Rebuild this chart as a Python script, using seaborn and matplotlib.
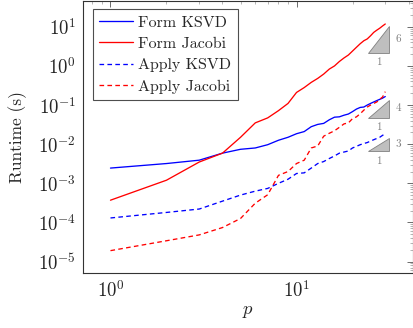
import numpy as np
import pandas as pd
import matplotlib
matplotlib.use("Agg")
import matplotlib.pyplot as plt
import matplotlib.ticker as mticker
from matplotlib.patches import Polygon
import seaborn as sns

# ---- data ----
p = list(range(1, 31))
form_ksvd = [2.45e-3, 3.2e-3, 3.9e-3, 5.9e-3, 7.4e-3, 8.0e-3, 9.7e-3, 0.0126, 0.015, 0.0185,
             0.021, 0.028, 0.032, 0.034, 0.042, 0.049, 0.050, 0.055, 0.059, 0.068,
             0.079, 0.087, 0.089, 0.10, 0.11, 0.12, 0.13, 0.14, 0.15, 0.165]
form_jacobi = [3.7e-4, 1.2e-3, 3.5e-3, 5.9e-3, 0.015, 0.035, 0.047, 0.072, 0.11, 0.21,
               0.28, 0.38, 0.48, 0.62, 0.83, 1.0, 1.3, 1.6, 1.9, 2.4,
               3.0, 3.7, 4.4, 4.9, 5.9, 7.2, 8.2, 9.2, 10.5, 11.8]
apply_ksvd = [1.3e-4, 1.8e-4, 2.2e-4, 3.5e-4, 5.0e-4, 6.3e-4, 7.4e-4, 1.0e-3, 1.27e-3, 1.78e-3,
              1.85e-3, 2.45e-3, 3.2e-3, 3.6e-3, 4.3e-3, 5.0e-3, 5.9e-3, 6.3e-3, 6.7e-3, 8.0e-3,
              8.8e-3, 9.7e-3, 0.0104, 0.011, 0.012, 0.013, 0.014, 0.015, 0.0168, 0.0185]
apply_jacobi = [1.9e-5, 3.4e-5, 4.8e-5, 7.4e-5, 1.26e-4, 3.1e-4, 5.1e-4, 1.6e-3, 2.0e-3, 3.2e-3,
                3.9e-3, 8.0e-3, 9.0e-3, 0.016, 0.019, 0.022, 0.027, 0.033, 0.035, 0.045,
                0.050, 0.060, 0.074, 0.089, 0.10, 0.11, 0.12, 0.14, 0.16, 0.22]
series_names = ["Form KSVD", "Form Jacobi", "Apply KSVD", "Apply Jacobi"]
x_major_exps = [0, 1]
y_major_exps = [-5, -4, -3, -2, -1, 0, 1]

# slope triangles (annotation guides)
tri_slopes = [6, 4, 3]
tri_base_y = [2.2, 0.048, 6.6e-3]
tri_x0, tri_x1 = 24.3, 31.5

rows = []
for name, vals in zip(series_names, [form_ksvd, form_jacobi, apply_ksvd, apply_jacobi]):
    for xi, yi in zip(p, vals):
        rows.append({"p": xi, "t": yi, "series": name})
df = pd.DataFrame(rows)

sns.set_theme(style="white")
plt.rcParams["mathtext.fontset"] = "cm"
plt.rcParams["font.family"] = ["cmr10", "DejaVu Serif"]
plt.rcParams["axes.formatter.use_mathtext"] = True

fig = plt.figure(figsize=(4.14, 3.28), dpi=100)
ax = fig.add_axes([0.2005, 0.168, 0.7965, 0.829])

palette = {"Form KSVD": "#0000ff", "Form Jacobi": "#ff0000",
           "Apply KSVD": "#0000ff", "Apply Jacobi": "#ff0000"}
dashes = {"Form KSVD": "", "Form Jacobi": "",
          "Apply KSVD": (3.5, 2.5), "Apply Jacobi": (3.5, 2.5)}
sns.lineplot(data=df, x="p", y="t", hue="series", style="series",
             hue_order=series_names, style_order=series_names,
             palette=palette, dashes=dashes, linewidth=0.95, ax=ax, legend=True)

ax.set_xscale("log")
ax.set_yscale("log")
lx0, lx1 = np.log10(1), np.log10(30)
ex = 0.1 * (lx1 - lx0)
xlo, xhi = 10 ** (lx0 - ex), 10 ** (lx1 + ex)
ylo, yhi = 10 ** -5.29, 10 ** 1.66
ax.set_xlim(xlo, xhi)
ax.set_ylim(ylo, yhi)


def minor_locs(lo, hi):
    out = []
    for e in range(int(np.floor(np.log10(lo))) - 1, int(np.ceil(np.log10(hi))) + 1):
        for m in range(2, 10):
            v = m * 10.0 ** e
            if lo <= v <= hi:
                out.append(v)
    return out


fmt = mticker.FuncFormatter(lambda v, pos: r"$10^{%d}$" % int(round(np.log10(v))))
ax.xaxis.set_major_locator(mticker.FixedLocator([10.0 ** e for e in x_major_exps]))
ax.yaxis.set_major_locator(mticker.FixedLocator([10.0 ** e for e in y_major_exps]))
ax.xaxis.set_major_formatter(fmt)
ax.yaxis.set_major_formatter(fmt)
ax.xaxis.set_minor_locator(mticker.FixedLocator(minor_locs(xlo, xhi)))
ax.yaxis.set_minor_locator(mticker.FixedLocator(minor_locs(ylo, yhi)))
ax.xaxis.set_minor_formatter(mticker.NullFormatter())
ax.yaxis.set_minor_formatter(mticker.NullFormatter())
ax.tick_params(which="major", direction="in", length=4, width=0.6, color="#555555",
               top=True, right=True, labelsize=13.5, pad=5)
ax.tick_params(which="minor", direction="in", length=2, width=0.5, color="#999999",
               top=True, right=True)
for s in ax.spines.values():
    s.set_color("#333333")
    s.set_linewidth(0.8)

ax.set_xlabel(r"$p$", fontsize=13.5, labelpad=1)
ax.set_ylabel("Runtime (s)", fontsize=12.5, labelpad=8)

for slope, yb in zip(tri_slopes, tri_base_y):
    yt = yb * (tri_x1 / tri_x0) ** slope
    tri = Polygon([[tri_x0, yb], [tri_x1, yb], [tri_x1, yt]], closed=True,
                  facecolor="#bfbfbf", edgecolor="#808080", linewidth=0.6, zorder=3)
    ax.add_patch(tri)
    ax.text(tri_x1 * 1.08, np.sqrt(yb * yt), str(slope), color="#808080",
            fontsize=8, ha="left", va="center")
    ax.text(np.sqrt(tri_x0 * tri_x1), yb / 1.35, "1", color="#808080",
            fontsize=8, ha="center", va="top")

leg = ax.legend(loc="upper left", bbox_to_anchor=(0.03, 0.97), frameon=True,
                fancybox=False, edgecolor="#222222", fontsize=11.5, handlelength=2.1,
                labelspacing=0.45, borderpad=0.4, handletextpad=0.35, borderaxespad=0)
leg.get_frame().set_linewidth(0.8)
leg.get_frame().set_facecolor("white")

fig.savefig("out.png", dpi=100)
